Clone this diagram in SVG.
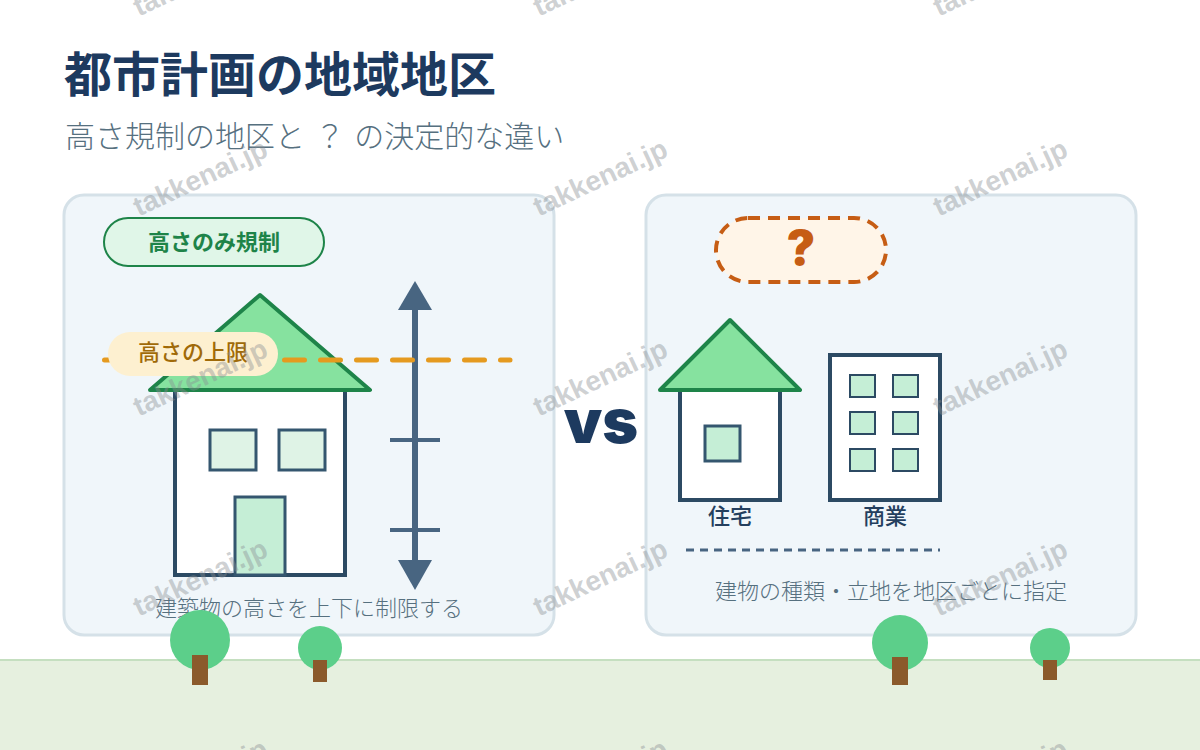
<svg xmlns="http://www.w3.org/2000/svg" width="1200" height="750" viewBox="0 0 1200 750">
  <style>
    text { font-family: "Noto Sans CJK JP", "Liberation Sans", sans-serif; text-anchor: middle; }
    .panel { fill: #f0f6fa; stroke: #d5e1e8; stroke-width: 3; }
    .wall { fill: #ffffff; stroke: #2c4a63; stroke-width: 4; }
    .roof { fill: #86e29f; stroke: #1e8449; stroke-width: 4; stroke-linejoin: round; }
    .pane { stroke: #34566f; stroke-width: 3; }
    .pane-s { fill: #c5eed6; stroke: #2c4a63; stroke-width: 2; }
    .leaf { fill: #5ccf8a; }
    .trunk { fill: #8b5a2b; }
    .note { font-size: 22px; font-weight: 300; fill: #56707f; }
    .tag { font-size: 22px; font-weight: 500; fill: #243f5e; }
    .heavy { font-family: "Inter", "Liberation Sans", sans-serif; font-weight: 900; }
    .mark { font-family: "Liberation Sans", sans-serif; font-size: 28px; font-weight: 700; fill: #8a8f94; fill-opacity: 0.42; }
  </style>
  <rect width="1200" height="750" fill="#ffffff"/>

  <!-- ground strip -->
  <g id="ground">
    <rect x="-2" y="660" width="1204" height="92" fill="#e6f0df" stroke="#c5dfc0" stroke-width="2"/>
  </g>

  <!-- headings -->
  <g id="heading">
    <text x="280" y="92" font-size="48" font-weight="700" fill="#1d3a5f">都市計画の地域地区</text>
    <text x="65" y="147" font-size="30" font-weight="300" word-spacing="3" fill="#56707f" style="text-anchor:start">高さ規制の地区と ？ の決定的な違い</text>
  </g>

  <!-- panels -->
  <g id="panel-left"><rect class="panel" x="64" y="195" width="490" height="440" rx="20"/></g>
  <g id="panel-right"><rect class="panel" x="646" y="195" width="490" height="440" rx="20"/></g>

  <g id="badge-height">
    <rect x="104" y="218" width="220" height="48" rx="24" fill="#e0f6e8" stroke="#1e8449" stroke-width="2"/>
    <text x="214" y="250" font-size="22" font-weight="700" fill="#1e8449">高さのみ規制</text>
  </g>
  <g id="house-large">
    <rect class="wall" x="175" y="390" width="170" height="185"/>
    <polygon class="roof" points="150,390 260,295 370,390"/>
    <rect class="pane" x="210" y="430" width="46" height="40" fill="#dff3e6"/>
    <rect class="pane" x="279" y="430" width="46" height="40" fill="#dff3e6"/>
    <rect class="pane" x="235" y="497" width="50" height="78" fill="#c5eed6"/>
  </g>

  <g id="connectors">
    <line x1="415" y1="300" x2="415" y2="570" stroke="#486581" stroke-width="6"/>
    <polygon points="415,281 398,310 432,310" fill="#486581"/>
    <polygon points="415,590 398,560 432,560" fill="#486581"/>
    <line x1="390" y1="440" x2="440" y2="440" stroke="#486581" stroke-width="4"/>
    <line x1="390" y1="530" x2="440" y2="530" stroke="#486581" stroke-width="4"/>
    <line x1="104.500" y1="360" x2="510" y2="360" stroke="#e59a1f" stroke-width="5" stroke-linecap="round" stroke-dasharray="20 16"/>
    <line x1="686" y1="550" x2="940" y2="550" stroke="#486581" stroke-width="3" stroke-dasharray="8 6"/>
  </g>

  <g id="limit-label">
    <rect x="108" y="332" width="170" height="44" rx="22" fill="#fdf0d0"/>
    <text x="193" y="360" font-size="22" font-weight="500" fill="#a06a08">高さの上限</text>
  </g>
  <g id="note-left"><text class="note" x="309" y="616">建築物の高さを上下に制限する</text></g>

  <!-- centre mark -->
  <g id="versus"><text class="heavy" x="601" y="443" font-size="61" fill="#1d3a5f">vs</text></g>

  <g id="badge-unknown">
    <rect x="716" y="218" width="170" height="64" rx="32" fill="#fff5e8" stroke="#c65d14" stroke-width="4" stroke-dasharray="12 8"/>
    <text class="heavy" x="801" y="265" font-size="48" fill="#c65d14">?</text>
  </g>
  <g id="house-small">
    <rect class="wall" x="680" y="390" width="100" height="110"/>
    <polygon class="roof" points="660,390 730,320 800,390"/>
    <rect class="pane" x="705" y="426" width="35" height="35" fill="#c5eed6"/>
    <text class="tag" x="730" y="524">住宅</text>
  </g>
  <g id="office">
    <rect class="wall" x="830" y="355" width="110" height="145"/>
    <rect class="pane-s" x="850" y="375" width="25" height="22"/>
    <rect class="pane-s" x="893" y="375" width="25" height="22"/>
    <rect class="pane-s" x="850" y="412" width="25" height="22"/>
    <rect class="pane-s" x="893" y="412" width="25" height="22"/>
    <rect class="pane-s" x="850" y="449" width="25" height="22"/>
    <rect class="pane-s" x="893" y="449" width="25" height="22"/>
    <text class="tag" x="885" y="524">商業</text>
  </g>
  <g id="note-right"><text class="note" x="891" y="599">建物の種類・立地を地区ごとに指定</text></g>

  <!-- trees -->
  <g id="tree-1"><circle class="leaf" cx="200" cy="640" r="30"/><rect class="trunk" x="192" y="655" width="16" height="30"/></g>
  <g id="tree-2"><circle class="leaf" cx="320" cy="648" r="22"/><rect class="trunk" x="313" y="660" width="14" height="22"/></g>
  <g id="tree-3"><circle class="leaf" cx="900" cy="643" r="28"/><rect class="trunk" x="892" y="657" width="16" height="28"/></g>
  <g id="tree-4"><circle class="leaf" cx="1050" cy="648" r="20"/><rect class="trunk" x="1043" y="660" width="14" height="20"/></g>

  <!-- site mark, repeated across the sheet -->
  <g id="site-mark">
    <text class="mark" transform="rotate(-25 200 -23)" x="200" y="-13">takkenai.jp</text>
    <text class="mark" transform="rotate(-25 600 -23)" x="600" y="-13">takkenai.jp</text>
    <text class="mark" transform="rotate(-25 1000 -23)" x="1000" y="-13">takkenai.jp</text>
    <text class="mark" transform="rotate(-25 200 177)" x="200" y="187">takkenai.jp</text>
    <text class="mark" transform="rotate(-25 600 177)" x="600" y="187">takkenai.jp</text>
    <text class="mark" transform="rotate(-25 1000 177)" x="1000" y="187">takkenai.jp</text>
    <text class="mark" transform="rotate(-25 200 377)" x="200" y="387">takkenai.jp</text>
    <text class="mark" transform="rotate(-25 600 377)" x="600" y="387">takkenai.jp</text>
    <text class="mark" transform="rotate(-25 1000 377)" x="1000" y="387">takkenai.jp</text>
    <text class="mark" transform="rotate(-25 200 577)" x="200" y="587">takkenai.jp</text>
    <text class="mark" transform="rotate(-25 600 577)" x="600" y="587">takkenai.jp</text>
    <text class="mark" transform="rotate(-25 1000 577)" x="1000" y="587">takkenai.jp</text>
    <text class="mark" transform="rotate(-25 200 777)" x="200" y="787">takkenai.jp</text>
    <text class="mark" transform="rotate(-25 600 777)" x="600" y="787">takkenai.jp</text>
    <text class="mark" transform="rotate(-25 1000 777)" x="1000" y="787">takkenai.jp</text>
  </g>
</svg>
